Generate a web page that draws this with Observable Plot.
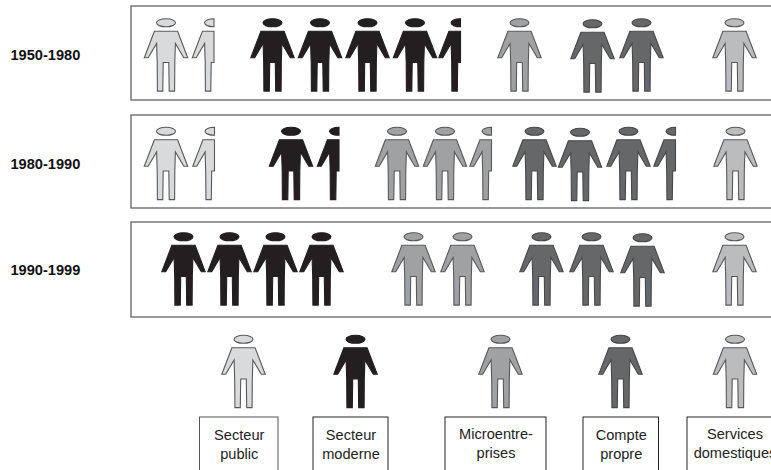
<!DOCTYPE html>
<html><head><meta charset="utf-8">
<script src="https://cdn.jsdelivr.net/npm/d3@7"></script>
<script src="https://cdn.jsdelivr.net/npm/@observablehq/plot@0.6"></script>
<style>html,body{margin:0;padding:0;background:#fff;overflow:hidden}svg{display:block}</style>
</head><body><div id="chart"></div>
<script>
// Data: number of person icons per period and sector
const periods = ["1950-1980", "1980-1990", "1990-1999"];
const categories = ["Secteur\npublic", "Secteur\nmoderne", "Microentre-\nprises", "Compte\npropre", "Services\ndomestiques"];
const publicCounts = [1.5, 1.5, 0];
const moderneCounts = [4.5, 1.5, 4];
const microCounts = [1, 2.5, 2];
const compteCounts = [2, 3.5, 3];
const servicesCounts = [1, 1, 1];
const counts = [publicCounts, moderneCounts, microCounts, compteCounts, servicesCounts];

// Layout (page units on identity scales)
const fills = ["#d9dadc", "#231f20", "#a0a1a3", "#666769", "#bbbcbe"];
const strokes = ["#58595b", "#231f20", "#58595b", "#47484a", "#58595b"];
const boxStrokes = ["#555", "#222", "#222", "#222", "#222"];
const rowFrames = [[6, 100], [115, 208], [222, 317]];
const rowCenters = [55, 163.5, 269];
const rowLabelY = [55, 164, 270];
const iconX = [
  [[165.5, 213.5], [272, 319.5, 367, 414.5, 460], [519], [592, 641], [734]],
  [[165.5, 214], [290.5, 338.5], [396.5, 444.5, 491], [534, 579.5, 628, 675], [735]],
  [[], [183, 229, 275, 321], [413, 462], [541, 591, 642], [734]]
];
const iconDy = [
  [[0, 0], [0, 0, 0, 0, 0], [0], [1, 0], [0]],
  [[0, 0], [0, 0], [0, 0, 0], [0, 1, 0, 0], [0]],
  [[], [0, 0, 0, 0], [0, 0], [0, 0, 1], [0]]
];
const legendX = [243, 355, 500, 620, 734.5];
const legendY = 371.5;
const boxes = [[199.5, 278], [313, 388], [445, 546], [583, 658.5], [687, 790]];
const boxTop = 417, boxBottom = 474;
const labelY = [443, 443, 441.5, 443, 442];

// Person glyphs, scaled by the dot radius (half of the icon height)
const U = 37;
const leftHalf = [[-11.6,-24.3],[-21.7,2.3],[-17.8,2.3],[-9.4,-12],[-8.8,7],[-8.6,35.6],[-3.2,35.6],[-2.8,7]];
function head(c, k, half) {
  c.moveTo(half ? 0 : 9.5 * k, -32.7 * k);
  if (half) {
    c.lineTo(0, -36.7 * k);
    c.bezierCurveTo(-5.4*k, -36.7*k, -9.5*k, -34.9*k, -9.5*k, -32.7*k);
    c.bezierCurveTo(-9.5*k, -30.5*k, -5.4*k, -28.7*k, 0, -28.7*k);
    c.closePath();
  } else {
    c.bezierCurveTo(9.5*k, -34.9*k, 5.4*k, -36.7*k, 0, -36.7*k);
    c.bezierCurveTo(-5.4*k, -36.7*k, -9.5*k, -34.9*k, -9.5*k, -32.7*k);
    c.bezierCurveTo(-9.5*k, -30.5*k, -5.4*k, -28.7*k, 0, -28.7*k);
    c.bezierCurveTo(5.4*k, -28.7*k, 9.5*k, -30.5*k, 9.5*k, -32.7*k);
    c.closePath();
  }
}
const person = {draw(c, size) {
  const k = Math.sqrt(size / Math.PI) / U;
  head(c, k, false);
  leftHalf.forEach(([x, y], i) => i ? c.lineTo(x*k, y*k) : c.moveTo(x*k, y*k));
  [...leftHalf].reverse().forEach(([x, y]) => c.lineTo(-x*k, y*k));
  c.closePath();
}};
const halfPerson = {draw(c, size) {
  const k = Math.sqrt(size / Math.PI) / U;
  head(c, k, true);
  c.moveTo(0, -24.3*k);
  leftHalf.forEach(([x, y]) => c.lineTo(x*k, y*k));
  c.lineTo(0, 7*k);
  c.closePath();
}};

// Build icons from the counts
const icons = [];
periods.forEach((p, r) => categories.forEach((cat, s) => {
  const n = counts[s][r];
  for (let i = 0; i < Math.ceil(n); i++) {
    icons.push({cat: s, x: iconX[r][s][i], y: rowCenters[r] + iconDy[r][s][i], half: n - i < 1});
  }
}));
const legendIcons = categories.map((c, s) => ({cat: s, x: legendX[s], y: legendY, half: false}));
const all = icons.concat(legendIcons);
const font = "'Liberation Sans', Arial, sans-serif";

const iconMarks = categories.flatMap((c, s) => [false, true].map(h =>
  Plot.dot(all.filter(d => d.cat === s && d.half === h), {
    x: "x", y: "y", r: U, symbol: h ? halfPerson : person,
    fill: fills[s], stroke: strokes[s], strokeWidth: 1.1
  })
));

const chart = Plot.plot({
  width: 771, height: 470, margin: 0,
  x: {domain: [0, 771], range: [0, 771], axis: null},
  y: {domain: [0, 470], range: [0, 470], axis: null},
  style: {background: "#fff", fontFamily: font},
  marks: [
    Plot.rect(rowFrames, {x1: () => 131, x2: () => 790, y1: d => d[0], y2: d => d[1], fill: "#fff", stroke: "#6d6e70", strokeWidth: 1.4}),
    ...iconMarks,
    Plot.text(periods, {x: () => 10, y: (d, i) => rowLabelY[i], text: d => d, textAnchor: "start", fontSize: 14.6, fontWeight: "bold", fill: "#111"}),
    Plot.rect(boxes, {x1: d => d[0], x2: d => d[1], y1: () => boxTop, y2: () => boxBottom, fill: "#fff", stroke: (d, i) => boxStrokes[i], strokeWidth: 1}),
    Plot.text(categories, {x: (d, i) => (boxes[i][0] + Math.min(boxes[i][1], 782)) / 2, y: (d, i) => labelY[i], text: d => d, fontSize: 14.6, lineHeight: 1.3, fill: "#222"})
  ]
});
document.getElementById("chart").append(chart);
</script></body></html>
